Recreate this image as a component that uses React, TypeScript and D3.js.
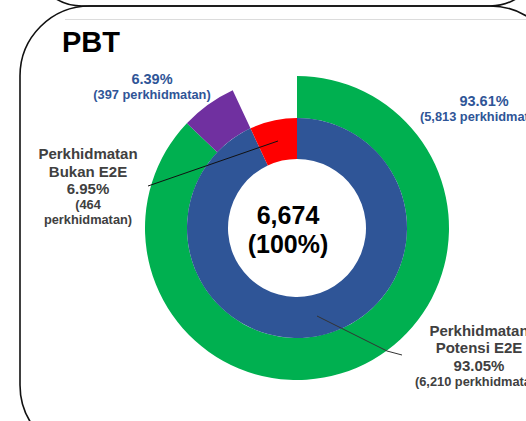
import React from "react";
import * as d3 from "d3";

const title = "PBT";
const innerNames = ["Perkhidmatan Potensi E2E", "Perkhidmatan Bukan E2E"];
const innerValues = [6210, 464];
const innerColors = ["#2F5597", "#FF0000"];
const outerValues = [5813, 397];
const outerColors = ["#00B050", "#7030A0"];

const W = 526;
const H = 421;
const cx = 297;
const cy = 228;
const rIn = 69;
const rMid = 110;
const rOut = 152;

const FONT = "'Liberation Sans', Arial, Helvetica, sans-serif";
const BLUE_TEXT = "#2F5597";
const GREY_TEXT = "#404040";

export default function App() {
  const total = d3.sum(innerValues);
  const fmt = d3.format(",");
  const pct = (v: number, t: number) => ((v / t) * 100).toFixed(2) + "%";

  const innerPie = d3.pie<number>().sort(null).startAngle(0).endAngle(2 * Math.PI);
  const innerArcs = innerPie(innerValues);
  const outerPie = d3
    .pie<number>()
    .sort(null)
    .startAngle(0)
    .endAngle(innerArcs[0].endAngle);
  const outerArcs = outerPie(outerValues);
  const outerTotal = d3.sum(outerValues);

  const innerArc = d3.arc<d3.PieArcDatum<number>>().innerRadius(rIn).outerRadius(rMid);
  const outerArc = d3.arc<d3.PieArcDatum<number>>().innerRadius(rMid).outerRadius(rOut);

  return (
    <svg
      width={W}
      height={H}
      style={{ position: "absolute", left: 0, top: 0, background: "#fff" }}
      fontFamily={FONT}
    >
      <rect x={0} y={0} width={W} height={H} fill="#fff" />
      {/* frames */}
      <line x1={65} y1={19.5} x2={W} y2={19.5} stroke="#dcdcdc" strokeWidth={1} />
      <rect x={32} y={-200} width={508} height={206} rx={50} fill="none" stroke="#111" strokeWidth={1.6} />
      <rect x={20} y={6} width={540} height={449} rx={70} fill="none" stroke="#111" strokeWidth={1.6} />

      <text x={62} y={52} fontSize={29} fontWeight="bold" fill="#000">
        {title}
      </text>

      <g transform={`translate(${cx},${cy})`}>
        {outerArcs.map((a, i) => (
          <path key={"o" + i} d={outerArc(a) || ""} fill={outerColors[i]} />
        ))}
        {innerArcs.map((a, i) => (
          <path key={"i" + i} d={innerArc(a) || ""} fill={innerColors[i]} />
        ))}
      </g>

      {/* leader lines */}
      <line x1={148} y1={186} x2={278} y2={141} stroke="#111" strokeWidth={1} />
      <polyline points="317,316 387,351 402,355" fill="none" stroke="#333" strokeWidth={1} />

      {/* center */}
      <text x={288} y={224} fontSize={25} fontWeight="bold" textAnchor="middle" fill="#000">
        {fmt(total)}
      </text>
      <text x={288} y={253} fontSize={25} fontWeight="bold" textAnchor="middle" fill="#000">
        (100%)
      </text>

      {/* outer labels */}
      <g fontWeight="bold" fill={BLUE_TEXT} textAnchor="middle">
        <text x={152} y={84} fontSize={14.5}>{pct(outerValues[1], outerTotal)}</text>
        <text x={152} y={99} fontSize={12.8}>({fmt(outerValues[1])} perkhidmatan)</text>
        <text x={484} y={106} fontSize={14.5}>{pct(outerValues[0], outerTotal)}</text>
        <text x={484} y={121} fontSize={12.8}>({fmt(outerValues[0])} perkhidmatan)</text>
      </g>

      {/* inner labels */}
      <g fontWeight="bold" fill={GREY_TEXT} textAnchor="middle">
        <text x={88} y={159} fontSize={15}>{innerNames[1].split(" ")[0]}</text>
        <text x={88} y={177} fontSize={15}>{innerNames[1].split(" ").slice(1).join(" ")}</text>
        <text x={88} y={194} fontSize={15}>{pct(innerValues[1], total)}</text>
        <text x={88} y={209} fontSize={12.8}>({fmt(innerValues[1])}</text>
        <text x={88} y={224} fontSize={12.8}>perkhidmatan)</text>

        <text x={479} y={336} fontSize={15}>{innerNames[0].split(" ")[0]}</text>
        <text x={479} y={353} fontSize={15}>{innerNames[0].split(" ").slice(1).join(" ")}</text>
        <text x={479} y={371} fontSize={15}>{pct(innerValues[0], total)}</text>
        <text x={479} y={386} fontSize={12.8}>({fmt(innerValues[0])} perkhidmatan)</text>
      </g>
    </svg>
  );
}
